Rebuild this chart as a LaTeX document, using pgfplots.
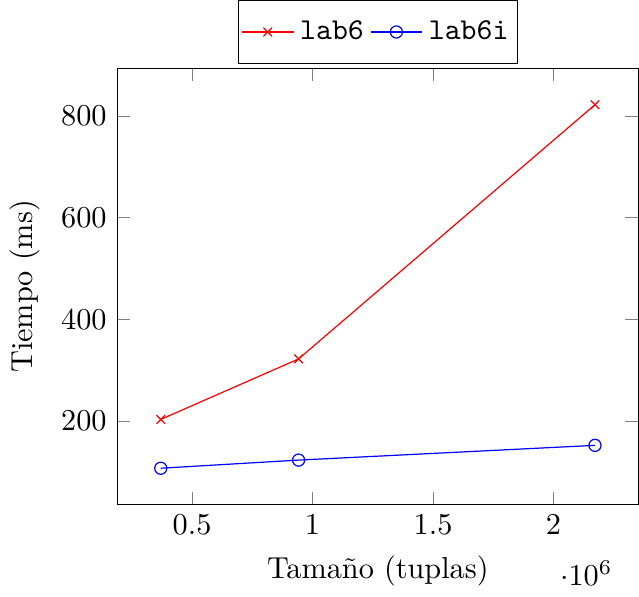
\documentclass[border=0pt]{standalone}
\usepackage{pgfplots}
\pgfplotsset{compat=1.18}
\begin{document}
\begin{tikzpicture}
\begin{axis}[
  scale only axis,
  width=172pt,
  height=144pt,
  xlabel={Tamaño (tuplas)},
  ylabel={Tiempo (ms)},
  legend style={at={(0.5,1.01)}, anchor=south, legend columns=-1,
    inner xsep=1pt, inner ysep=4.5pt},
]
% lab6
\addplot[red, mark=x]
  coordinates{
    (370000,203) (942000,322) (2172000,822)
  };
\addlegendentry{\texttt{lab6}}

% lab6i
\addplot[blue, mark=o]
  coordinates{
    (370000,107) (942000,123) (2172000,152)
  };
\addlegendentry{\texttt{lab6i}}
\end{axis}
\end{tikzpicture}
\end{document}
